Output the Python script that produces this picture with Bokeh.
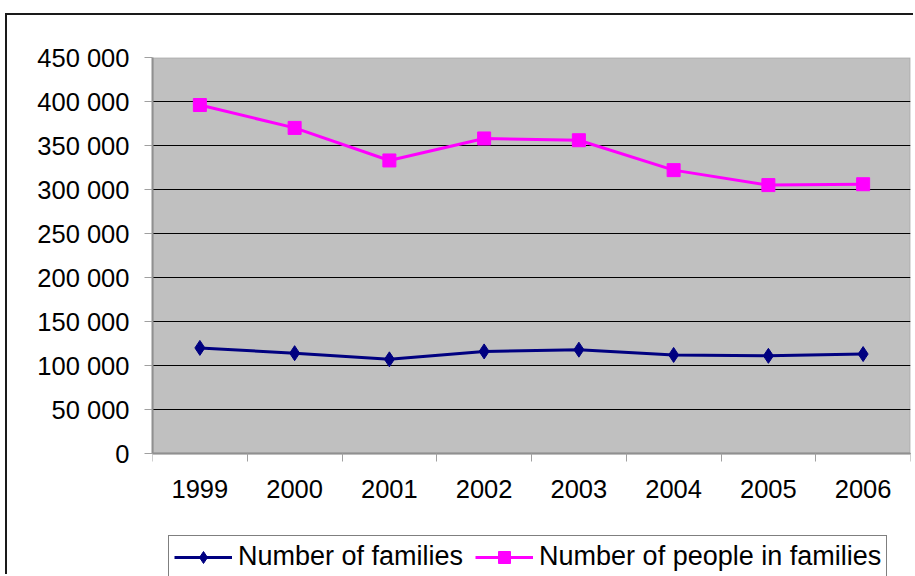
import numpy as np
from bokeh.plotting import figure
from bokeh.models import FixedTicker, Legend, LegendItem, ColumnDataSource, BoxAnnotation
from bokeh.embed import file_html
from bokeh.resources import INLINE

# ---- data ----
years = [1999, 2000, 2001, 2002, 2003, 2004, 2005, 2006]
families = [120000, 114000, 107000, 116000, 118000, 112000, 111000, 113000]
people = [396000, 370000, 333000, 358000, 356000, 322000, 305000, 306000]
y_ticks = [0, 50000, 100000, 150000, 200000, 250000, 300000, 350000, 400000, 450000]
y_labels = ["0", "50 000", "100 000", "150 000", "200 000", "250 000",
            "300 000", "350 000", "400 000", "450 000"]
series_names = ["Number of families", "Number of people in families"]

FONT = "Liberation Sans"

# frame: 519 px tall; value axis 0..450000 occupies the upper 396 px,
# the lower 123 px hold the year labels and the legend.
y_top = y_ticks[-1]
y_bottom = -y_top * 123 / 396

p = figure(width=908, height=561, output_backend="svg", toolbar_location=None,
           x_range=(years[0] - 0.5, years[-1] + 0.5), y_range=(y_bottom, y_top),
           min_border_left=145, min_border_right=5, min_border_top=42,
           min_border_bottom=0)
p.styles = {"border-left": "2px solid #1a1a1a", "border-top": "2px solid #1a1a1a",
            "margin-left": "5px", "margin-top": "13px"}

p.background_fill_color = "white"
p.border_fill_color = "white"
p.outline_line_color = None

# grey plot area
area = BoxAnnotation(bottom=y_ticks[0], top=y_ticks[-1], fill_color="#C0C0C0",
                     fill_alpha=1, line_color="#808080", line_width=2, level="image")
p.add_layout(area)

# grid
p.xgrid.grid_line_color = None
p.ygrid.grid_line_color = "black"
p.ygrid.grid_line_width = 1

# x axis (sits on the value 0)
xa = p.xaxis[0]
xa.fixed_location = 0
xa.ticker = FixedTicker(ticks=years, minor_ticks=[y - 0.5 for y in years] + [years[-1] + 0.5])
xa.major_tick_line_color = None
xa.major_tick_out = 0
xa.major_tick_in = 0
xa.minor_tick_line_color = "#A0A0A0"
xa.minor_tick_out = 8
xa.minor_tick_in = 0
xa.axis_line_color = "#909090"
xa.axis_line_width = 2
xa.major_label_text_font = FONT
xa.major_label_text_font_size = "25.5px"
xa.major_label_text_color = "black"
xa.major_label_standoff = 18

# y axis
ya = p.yaxis[0]
ya.bounds = (y_ticks[0], y_ticks[-1])
ya.ticker = FixedTicker(ticks=y_ticks)
ya.major_label_overrides = dict(zip(y_ticks, y_labels))
ya.major_tick_line_color = "#A0A0A0"
ya.major_tick_out = 8
ya.major_tick_in = 0
ya.minor_tick_line_color = None
ya.axis_line_color = "#909090"
ya.axis_line_width = 2
ya.major_label_text_font = FONT
ya.major_label_text_font_size = "25.5px"
ya.major_label_text_color = "black"
ya.major_label_standoff = 15

src = ColumnDataSource(dict(year=years, families=families, people=people))

l1 = p.line("year", "families", source=src, line_color="#000080", line_width=3)
m1 = p.scatter("year", "families", source=src, marker="diamond",
               size=15, fill_color="#000080", line_color="#000080")
l2 = p.line("year", "people", source=src, line_color="#FF00FF", line_width=3)
m2 = p.scatter("year", "people", source=src, marker="square", size=13,
               fill_color="#FF00FF", line_color="#FF00FF")

legend = Legend(items=[LegendItem(label=series_names[0], renderers=[l1, m1]),
                       LegendItem(label=series_names[1], renderers=[l2, m2])],
                orientation="horizontal", location=(16, -2))
legend.label_text_font = FONT
legend.label_text_font_size = "27px"
legend.label_text_color = "black"
legend.glyph_width = 58
legend.glyph_height = 30
legend.label_standoff = 6
legend.spacing = 12
legend.padding = 5
legend.margin = 0
legend.border_line_color = "black"
legend.border_line_width = 1
legend.background_fill_color = "white"
legend.background_fill_alpha = 1
p.add_layout(legend)

open("out.html", "w").write(file_html(p, INLINE))
